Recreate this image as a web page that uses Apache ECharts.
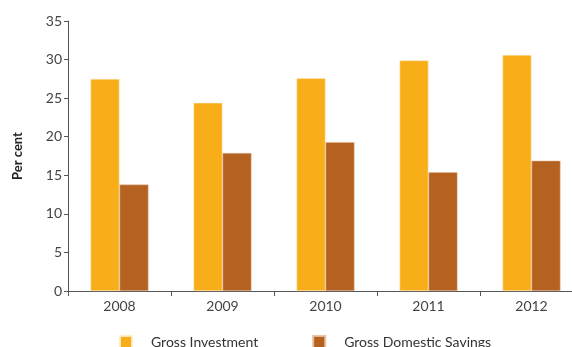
<!DOCTYPE html>
<html>
<head>
<meta charset="utf-8">
<script src="https://cdn.jsdelivr.net/npm/echarts@6/dist/echarts.min.js"></script>
<style>
html,body{margin:0;padding:0;background:#fff;}
#c{width:572px;height:347px;}
</style>
</head>
<body>
<div id="c"></div>
<script>
var categories = ['2008', '2009', '2010', '2011', '2012'];
var grossInvestment = [27.5, 24.4, 27.6, 29.9, 30.6];
var grossDomesticSavings = [13.8, 17.9, 19.3, 15.4, 16.9];
var seriesNames = ['Gross Investment', 'Gross Domestic Savings'];

var font = 'Lato, "Open Sans", sans-serif';
var chart = echarts.init(document.getElementById('c'));
chart.setOption({
  animation: false,
  backgroundColor: '#fff',
  grid: {left: 68, top: 21, width: 515, height: 270, containLabel: false, outerBoundsMode: 'none'},
  legend: {
    left: 119, top: 335, padding: 0,
    itemWidth: 12, itemHeight: 12, itemGap: 54,
    icon: 'rect',
    textStyle: {fontFamily: font, fontSize: 14, color: '#333', padding: [3, 0, 0, 14]},
    data: seriesNames
  },
  xAxis: {
    type: 'category',
    data: categories,
    axisLine: {lineStyle: {color: '#555', width: 1}},
    axisTick: {show: true, length: 5, lineStyle: {color: '#555'}},
    axisLabel: {fontFamily: font, fontSize: 14, color: '#444', margin: 8}
  },
  yAxis: {
    type: 'value',
    min: 0, max: 35, interval: 5,
    name: 'Per cent',
    nameLocation: 'middle',
    nameGap: 44,
    nameTextStyle: {fontFamily: font, fontSize: 13, color: '#222', fontWeight: 'bold'},
    splitLine: {show: false},
    axisLine: {show: true, lineStyle: {color: '#555', width: 1}},
    axisTick: {show: true, length: 4, lineStyle: {color: '#555'}},
    axisLabel: {fontFamily: font, fontSize: 14, color: '#444', margin: 6}
  },
  series: [
    {
      name: seriesNames[0], type: 'bar', data: grossInvestment,
      barWidth: 29, barGap: '0%',
      itemStyle: {color: '#F8AE19', borderColor: 'rgba(255,235,200,0.9)', borderWidth: 0.6}
    },
    {
      name: seriesNames[1], type: 'bar', data: grossDomesticSavings,
      barWidth: 29, barGap: '0%',
      itemStyle: {color: '#B56220', borderColor: 'rgba(230,190,160,0.9)', borderWidth: 0.6}
    }
  ]
});
</script>
</body>
</html>
